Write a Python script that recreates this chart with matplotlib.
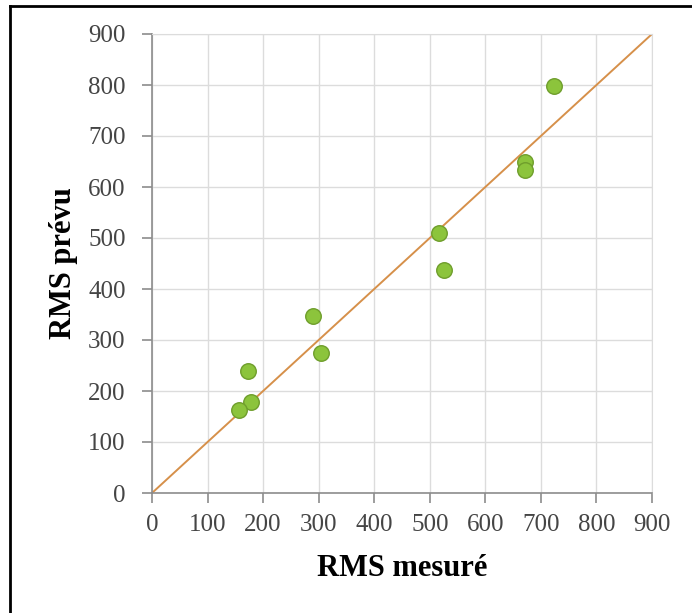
import numpy as np
import matplotlib
matplotlib.use("Agg")
import matplotlib.pyplot as plt
from matplotlib.lines import Line2D

# valeurs
rms_mesure = [724, 671, 671, 517, 526, 289, 304, 173, 179, 157]
rms_prevu = [798, 649, 633, 509, 438, 348, 274, 239, 179, 163]
ligne_ref = [0, 900]
graduations = list(range(0, 901, 100))

plt.rcParams['font.family'] = ['Liberation Serif', 'DejaVu Serif']

fig = plt.figure(figsize=(6.92, 6.13), dpi=100)
ax = fig.add_axes([152 / 692, 1 - 493 / 613, 500 / 692, 459 / 613])

ax.plot(ligne_ref, ligne_ref, color="#d6904a", lw=1.4, zorder=2)
ax.scatter(rms_mesure, rms_prevu, s=125, color="#8cc43c", edgecolor="#6f9e2c",
           linewidth=1.0, zorder=3)

ax.set_xlim(0, 900)
ax.set_ylim(0, 900)
ax.set_xticks(graduations)
ax.set_yticks(graduations)
ax.grid(True, color="#dcdcdc", lw=1.0)
ax.set_axisbelow(True)
for s in ["top", "right"]:
    ax.spines[s].set_color("#dcdcdc")
for s in ["left", "bottom"]:
    ax.spines[s].set_color("#8c8c8c")
    ax.spines[s].set_linewidth(1.2)
ax.tick_params(axis="both", colors="#8c8c8c", length=7, width=1.2,
               labelsize=18, labelcolor="#454545")
ax.tick_params(axis="y", pad=12)
ax.tick_params(axis="x", pad=8)

ax.set_xlabel("RMS mesuré", fontsize=22, fontweight="bold", labelpad=13)
ax.set_ylabel("RMS prévu", fontsize=22, fontweight="bold", labelpad=7)

# cadre (haut et gauche)
fig.add_artist(Line2D([10 / 692, 1], [1 - 6 / 613, 1 - 6 / 613], color="black", lw=2,
                      transform=fig.transFigure))
fig.add_artist(Line2D([10 / 692, 10 / 692], [0, 1 - 6 / 613], color="black", lw=2,
                      transform=fig.transFigure))

fig.savefig("out.png", dpi=100)
